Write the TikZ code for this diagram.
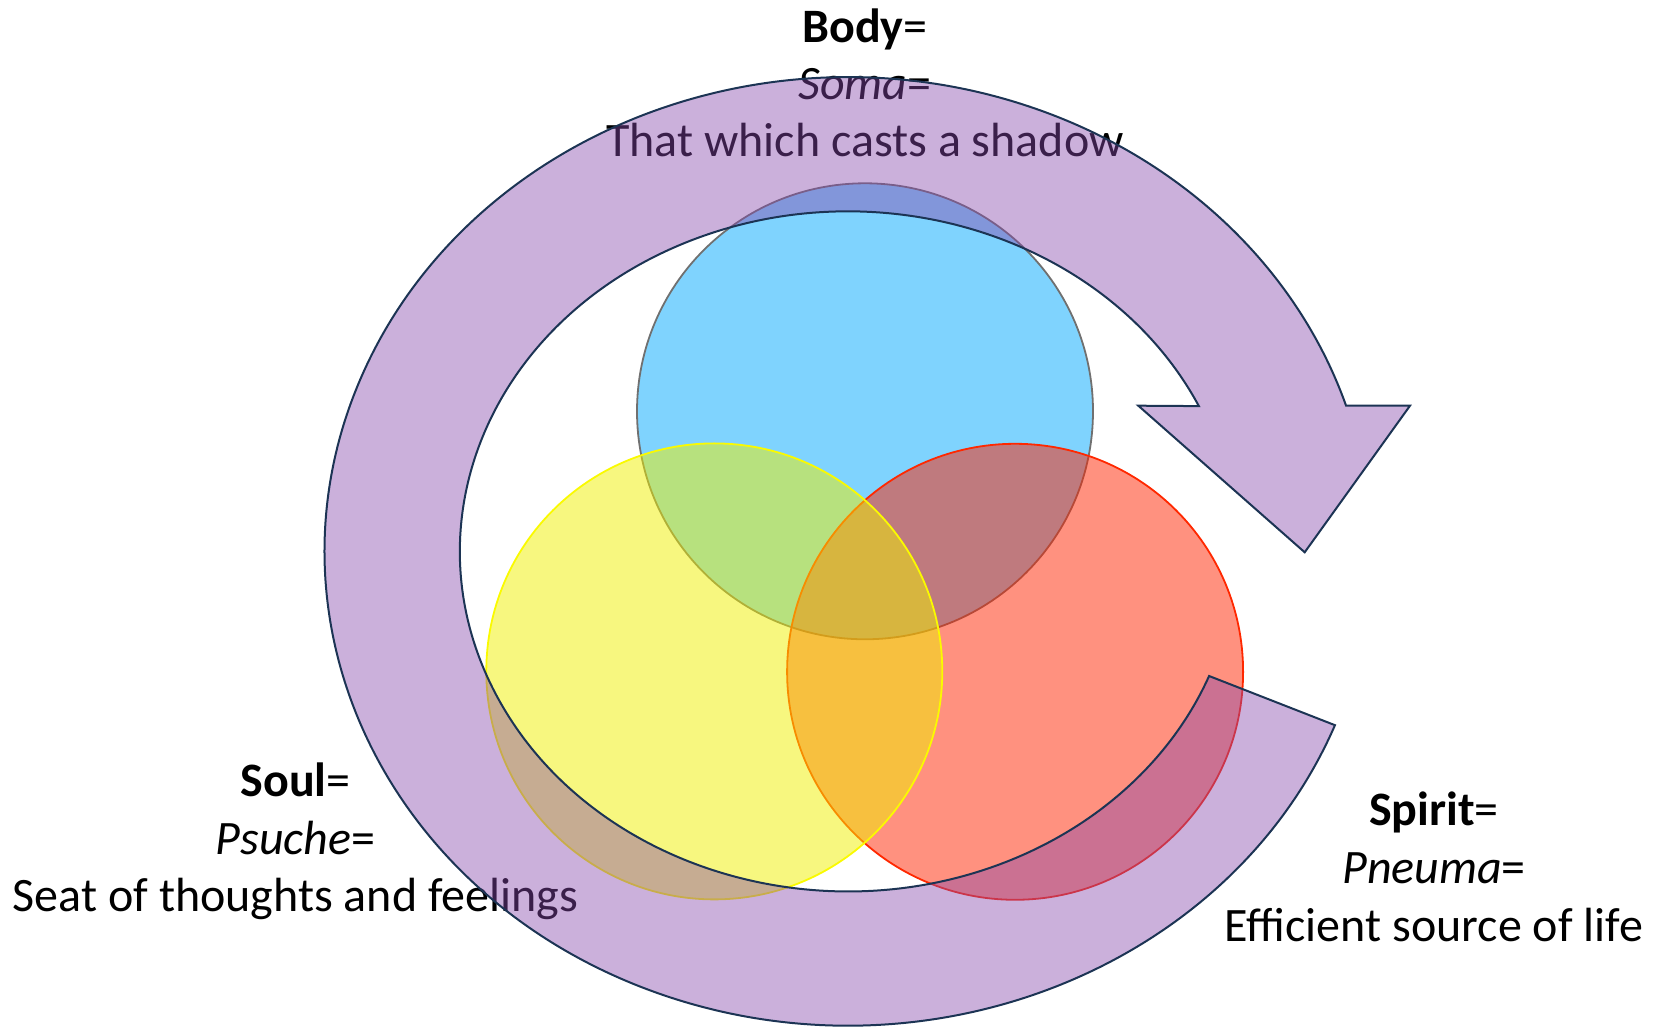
\documentclass[tikz,border=0pt]{standalone}
\usepackage{fontspec}
\setmainfont{Carlito}
\usetikzlibrary{calc}
\begin{document}
\begin{tikzpicture}[x=1pt,y=1pt]
\definecolor{ringfill}{RGB}{135,72,172}
\definecolor{ringline}{RGB}{28,52,84}
\definecolor{bodyblue}{RGB}{0,167,253}
\definecolor{spiritred}{RGB}{255,35,0}
\definecolor{soulyellow}{RGB}{240,240,0}
\definecolor{rimgray}{RGB}{112,112,112}
\definecolor{rimred}{RGB}{255,40,0}
\definecolor{rimyellow}{RGB}{250,250,0}
\tikzset{
  lbl/.style={anchor=base, inner sep=0pt, font=\fontsize{48}{57}\selectfont, text=black},
  venn/.style={circle, minimum size=456pt, inner sep=0pt, line width=1.8pt, fill opacity=0.5},
  cyclearrow/.style={fill=ringfill, fill opacity=0.43, draw=ringline, line width=2pt, line join=miter},
}
\useasboundingbox (0,0) rectangle (1658,1029);

% captions (lying under the translucent arrow)
\node[lbl] (bodyA) at (865,986.3) {\textbf{Body}=};
\node[lbl] (bodyB) at (865,929.5) {\textit{Soma}=};
\node[lbl] (bodyC) at (865,872.3) {That which casts a shadow};

\node[lbl] (soulA) at (295.5,232) {\textbf{Soul}=};
\node[lbl] (soulB) at (295.5,175) {\textit{Psuche}=};
\node[lbl] (soulC) at (295.5,117.5) {Seat of thoughts and feelings};

\node[lbl] (spiritA) at (1434,204) {\textbf{Spirit}=};
\node[lbl] (spiritB) at (1434,146) {\textit{Pneuma}=};
\node[lbl] (spiritC) at (1434,88) {Efficient source of life};

% the three overlapping circles
\node[venn, draw=rimgray, fill=bodyblue] (body) at (865,617.7) {};
\node[venn, draw=rimred, fill=spiritred] (spirit) at (1015.1,357.2) {};
\node[venn, draw=rimyellow, fill=soulyellow] (soul) at (714.3,357.6) {};

% circular arrow around them
\coordinate (c) at (848,477.6);
\draw[cyclearrow]
  ($(c)+(-21.5:523.4 and 474.2)$)
    arc[start angle=-21.5, end angle=-342.1, x radius=523.4, y radius=474.2]
  -- (1410,623.3) -- (1304.7,476.7) -- (1138.3,623.3)
  -- ($(c)+(25.3:388.1 and 340)$)
    arc[start angle=25.3, end angle=338.5, x radius=388.1, y radius=340]
  -- cycle;
\end{tikzpicture}
\end{document}
